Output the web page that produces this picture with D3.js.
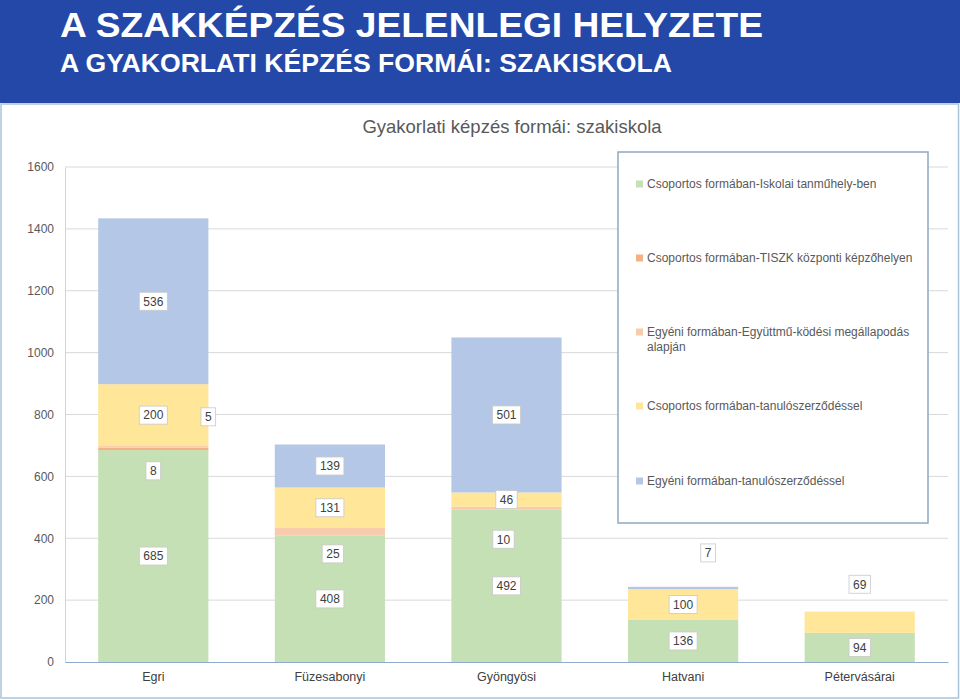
<!DOCTYPE html>
<html>
<head>
<meta charset="utf-8">
<script src="https://cdn.jsdelivr.net/npm/d3@7/dist/d3.min.js"></script>
<style>
  html, body { margin: 0; padding: 0; background: #fff; }
  svg { display: block; font-family: "Liberation Sans", Arial, sans-serif; }
</style>
</head>
<body>
<svg id="chart" width="960" height="700"></svg>
<script>
// ---------- DATA ----------
const headerTitle = "A SZAKKÉPZÉS JELENLEGI HELYZETE";
const headerSubtitle = "A GYAKORLATI KÉPZÉS FORMÁI: SZAKISKOLA";
const chartTitle = "Gyakorlati képzés formái: szakiskola";

const categories = ["Egri", "Füzesabonyi", "Gyöngyösi", "Hatvani", "Pétervásárai"];

const seriesNames = [
  "Csoportos formában-Iskolai tanműhely-ben",
  "Csoportos formában-TISZK központi képzőhelyen",
  "Egyéni formában-Együttmű-ködési megállapodás alapján",
  "Csoportos formában-tanulószerződéssel",
  "Egyéni formában-tanulószerződéssel"
];

const iskolaiTanmuhely   = [685, 408, 492, 136, 94];
const tiszkKozponti      = [8, 0, 0, 0, 0];
const egyuttmukodesi     = [5, 25, 10, 0, 0];
const csoportosTanulo    = [200, 131, 46, 100, 69];
const egyeniTanulo       = [536, 139, 501, 7, 0];

const seriesValues = [iskolaiTanmuhely, tiszkKozponti, egyuttmukodesi, csoportosTanulo, egyeniTanulo];

const yTicks = [0, 200, 400, 600, 800, 1000, 1200, 1400, 1600];

// ---------- STYLE / LAYOUT ----------
const colors = ["#c5e0b4", "#f4b183", "#f8cbad", "#ffe699", "#b4c7e7"];
const legendLines = [
  ["Csoportos formában-Iskolai tanműhely-ben"],
  ["Csoportos formában-TISZK központi képzőhelyen"],
  ["Egyéni formában-Együttmű-ködési megállapodás", "alapján"],
  ["Csoportos formában-tanulószerződéssel"],
  ["Egyéni formában-tanulószerződéssel"]
];
// manual label nudges (pixels), as in the original chart
const labelNudge = {
  "1|Egri": [0, 22],
  "2|Egri": [55, -30],
  "2|Füzesabonyi": [3, 22],
  "2|Gyöngyösi": [-3, 31],
  "4|Hatvani": [25, -35],
  "3|Pétervásárai": [0, -38]
};

const svg = d3.select("#chart");

// Header
svg.append("rect").attr("x", 0).attr("y", 0).attr("width", 960).attr("height", 103).attr("fill", "#2448a8");
svg.append("text").attr("x", 60).attr("y", 37)
  .attr("fill", "#fff").attr("font-weight", "bold").attr("font-size", 35)
  .attr("textLength", 703).attr("lengthAdjust", "spacingAndGlyphs")
  .text(headerTitle);
svg.append("text").attr("x", 60).attr("y", 72)
  .attr("fill", "#fff").attr("font-weight", "bold").attr("font-size", 25.5)
  .attr("textLength", 612).attr("lengthAdjust", "spacingAndGlyphs")
  .text(headerSubtitle);

// Frame
svg.append("rect").attr("x", 1).attr("y", 104).attr("width", 957.5).attr("height", 594)
  .attr("fill", "#fff").attr("stroke", "#a9c3d8").attr("stroke-width", 1.5);

// Chart title
svg.append("text").attr("x", 512).attr("y", 133).attr("text-anchor", "middle")
  .attr("font-size", 18.5).attr("fill", "#595959").text(chartTitle);

// Scales
const plotLeft = 65, plotRight = 948, plotTop = 167, plotBottom = 662;
const y = d3.scaleLinear().domain([0, 1600]).range([plotBottom, plotTop]);
const x = d3.scaleBand().domain(categories).range([plotLeft, plotRight])
  .paddingInner(0.376).paddingOuter(0.188);

// Gridlines
svg.append("g").selectAll("line").data(yTicks.filter(d => d > 0)).join("line")
  .attr("x1", plotLeft).attr("x2", plotRight)
  .attr("y1", d => y(d)).attr("y2", d => y(d))
  .attr("stroke", "#d9d9d9").attr("stroke-width", 1);

// Y axis
const yAxis = svg.append("g").attr("transform", `translate(${plotLeft},0)`)
  .call(d3.axisLeft(y).tickValues(yTicks).tickSize(0).tickPadding(11).tickFormat(d3.format("d")));
yAxis.select(".domain").attr("stroke", "#c5d6e6");
yAxis.selectAll("text").attr("font-size", 12).attr("fill", "#595959")
  .attr("font-family", "Liberation Sans, Arial, sans-serif");

// Stack
const table = categories.map((c, i) => {
  const row = { category: c };
  seriesNames.forEach((s, k) => row[s] = seriesValues[k][i]);
  return row;
});
const stacked = d3.stack().keys(seriesNames)(table);

const barsG = svg.append("g");
stacked.forEach((layer, k) => {
  barsG.append("g").attr("fill", colors[k]).selectAll("rect")
    .data(layer).join("rect")
    .attr("x", d => x(d.data.category))
    .attr("width", x.bandwidth())
    .attr("y", d => y(d[1]))
    .attr("height", d => y(d[0]) - y(d[1]));
});

// X axis
const xAxis = svg.append("g").attr("transform", `translate(0,${plotBottom})`)
  .call(d3.axisBottom(x).tickSize(0).tickPadding(10));
xAxis.select(".domain").attr("stroke", "#8eaacc").attr("stroke-width", 1.2);
xAxis.selectAll("text").attr("font-size", 12.5).attr("fill", "#404040")
  .attr("font-family", "Liberation Sans, Arial, sans-serif");

// Data labels
const labelsG = svg.append("g");
stacked.forEach((layer, k) => {
  layer.forEach(d => {
    const v = d[1] - d[0];
    if (!v) return;
    const key = k + "|" + d.data.category;
    const nudge = labelNudge[key] || [0, 0];
    const cx = x(d.data.category) + x.bandwidth() / 2 + nudge[0];
    const cy = y((d[0] + d[1]) / 2) + nudge[1];
    const g = labelsG.append("g").attr("transform", `translate(${cx},${cy})`);
    const t = g.append("text").attr("text-anchor", "middle").attr("dy", "0.36em")
      .attr("font-size", 12).attr("fill", "#404040").text(v);
    const w = t.node().getComputedTextLength() + 8;
    g.insert("rect", "text").attr("x", -w / 2).attr("y", -9).attr("width", w).attr("height", 18)
      .attr("fill", "#fff").attr("stroke", "#c8c8c8").attr("stroke-width", 0.8);
  });
});

// Legend
const legend = svg.append("g");
legend.append("rect").attr("x", 618).attr("y", 152).attr("width", 310).attr("height", 371)
  .attr("fill", "#fff").attr("stroke", "#8ea9c1").attr("stroke-width", 1.5);
const legendY = [184, 258, 332, 406, 481];
legendLines.forEach((lines, k) => {
  legend.append("rect").attr("x", 636).attr("y", legendY[k] - 3.5).attr("width", 7).attr("height", 7)
    .attr("fill", colors[k]);
  lines.forEach((ln, j) => {
    legend.append("text").attr("x", 647).attr("y", legendY[k] + j * 15).attr("dy", "0.36em")
      .attr("font-size", 12).attr("fill", "#595959").text(ln);
  });
});
</script>
</body>
</html>
